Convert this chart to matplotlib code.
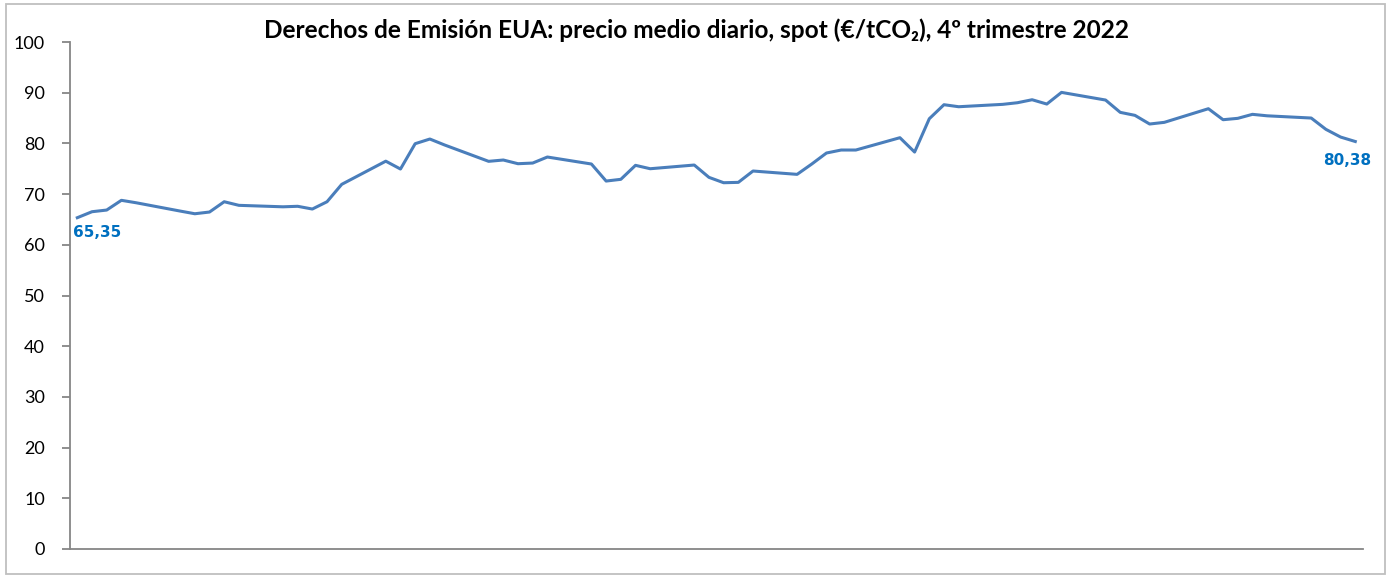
#!/usr/bin/env python3
# Derechos de Emision EUA, precio medio diario spot, Q4 2022

import matplotlib
matplotlib.use('Agg')
import matplotlib.pyplot as plt
import matplotlib.dates as mdates
from matplotlib.patches import Rectangle
import numpy as np

TITLE = 'Derechos de Emisión EUA: precio medio diario, spot (€/tCO₂), 4º trimestre 2022'

DATES = [
    '2022-10-03', '2022-10-04', '2022-10-05', '2022-10-06', '2022-10-07',
    '2022-10-10', '2022-10-11', '2022-10-12', '2022-10-13', '2022-10-14',
    '2022-10-17', '2022-10-18', '2022-10-19', '2022-10-20', '2022-10-21',
    '2022-10-24', '2022-10-25', '2022-10-26', '2022-10-27', '2022-10-28',
    '2022-10-31', '2022-11-01', '2022-11-02', '2022-11-03', '2022-11-04',
    '2022-11-07', '2022-11-08', '2022-11-09', '2022-11-10', '2022-11-11',
    '2022-11-14', '2022-11-15', '2022-11-16', '2022-11-17', '2022-11-18',
    '2022-11-21', '2022-11-22', '2022-11-23', '2022-11-24', '2022-11-25',
    '2022-11-28', '2022-11-29', '2022-11-30', '2022-12-01', '2022-12-02',
    '2022-12-05', '2022-12-06', '2022-12-07', '2022-12-08', '2022-12-09',
    '2022-12-12', '2022-12-13', '2022-12-14', '2022-12-15', '2022-12-16',
    '2022-12-19', '2022-12-20', '2022-12-21', '2022-12-22', '2022-12-23',
    '2022-12-26', '2022-12-27', '2022-12-28', '2022-12-29',
]

PRICES = [
    65.35, 66.53, 66.86, 68.78, 68.30,
    66.66, 66.13, 66.47, 68.50, 67.79,
    67.50, 67.60, 67.06, 68.50, 71.93,
    76.50, 74.95, 79.95, 80.87, 79.70,
    76.47, 76.73, 76.00, 76.13, 77.32,
    75.94, 72.58, 72.92, 75.68, 75.01,
    75.74, 73.31, 72.25, 72.32, 74.56,
    73.90, 75.94, 78.11, 78.70, 78.70,
    81.13, 78.30, 84.87, 87.64, 87.24,
    87.71, 88.03, 88.62, 87.77, 90.07,
    88.56, 86.13, 85.54, 83.83, 84.16,
    86.85, 84.68, 84.95, 85.74, 85.45,
    85.01, 82.78, 81.26, 80.38,
]

Y_TICKS = list(range(0, 101, 10))

LINE_COLOR = '#4A7EBB'
LABEL_COLOR = '#0070C0'
AXIS_COLOR = '#868686'


def fmt_es(v: float) -> str:
    return f'{v:.2f}'.replace('.', ',')


def main():
    dates = mdates.date2num(np.array(DATES, dtype='datetime64[D]'))

    fig = plt.figure(figsize=(13.91, 5.76), dpi=100)
    fig.patches.append(Rectangle((0.0045, 0.004), 0.991, 0.989, transform=fig.transFigure,
                                 fill=False, edgecolor='#BFBFBF', linewidth=1.3))
    ax = fig.add_axes((0.0503, 0.0469, 0.9293, 0.8801))

    ax.plot(dates, PRICES, color=LINE_COLOR, linewidth=2.2, solid_joinstyle='round')

    ax.set_ylim(0, 100)
    ax.set_xlim(dates[0] - 0.5, dates[-1] + 0.5)
    ax.set_yticks(Y_TICKS)
    ax.set_xticks([])

    for side in ('top', 'right'):
        ax.spines[side].set_visible(False)
    for side in ('left', 'bottom'):
        ax.spines[side].set_color(AXIS_COLOR)
        ax.spines[side].set_linewidth(1.3)
    ax.tick_params(axis='y', direction='out', length=6, width=1.3, color=AXIS_COLOR,
                   labelsize=13, pad=12)
    for lbl in ax.get_yticklabels():
        lbl.set_family(['Lato', 'DejaVu Sans'])

    # first / last value labels
    ax.annotate(fmt_es(PRICES[0]), xy=(dates[0], PRICES[0]), xytext=(20, -15),
                textcoords='offset pixels', ha='center', va='center',
                fontsize=11, fontweight='bold', color=LABEL_COLOR, family='DejaVu Sans')
    ax.annotate(fmt_es(PRICES[-1]), xy=(dates[-1], PRICES[-1]), xytext=(-8, -19),
                textcoords='offset pixels', ha='center', va='center',
                fontsize=11, fontweight='bold', color=LABEL_COLOR, family='DejaVu Sans')

    fig.text(0.501, 0.947, TITLE, ha='center', va='center', fontsize=17.6,
             fontweight='bold', family=['Lato', 'DejaVu Sans'])

    fig.savefig('out.png', dpi=100)


if __name__ == '__main__':
    main()
